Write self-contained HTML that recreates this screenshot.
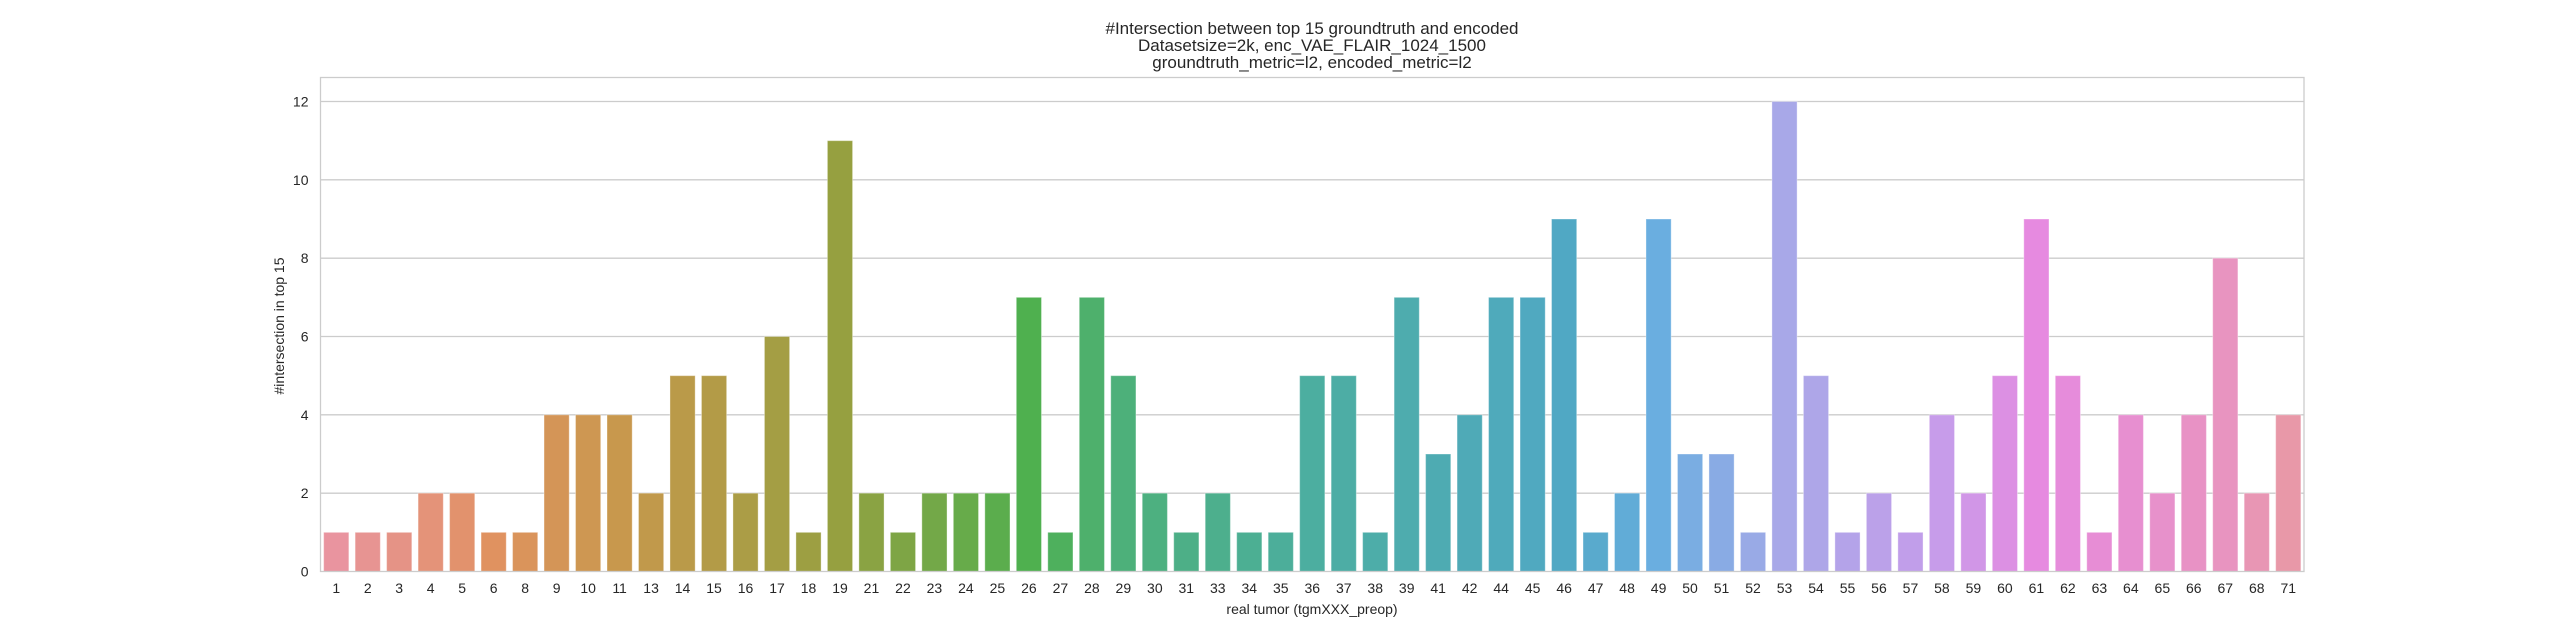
<!DOCTYPE html>
<html><head><meta charset="utf-8"><style>
html,body{margin:0;padding:0;background:#fff;}
svg{display:block;font-family:"Liberation Sans",Arial,sans-serif;}
</style></head><body>
<svg id="chart" width="2560" height="643" viewBox="0 0 2560 643">
<text x="1312" y="34" text-anchor="middle" font-size="17" fill="#262626">#Intersection between top 15 groundtruth and encoded</text>
<text x="1312" y="51" text-anchor="middle" font-size="17" fill="#262626">Datasetsize=2k, enc_VAE_FLAIR_1024_1500</text>
<text x="1312" y="68" text-anchor="middle" font-size="17" fill="#262626">groundtruth_metric=l2, encoded_metric=l2</text>
<g id="grid"></g>
<g id="bars"></g>
<g id="xticks"></g>
<rect x="320.5" y="77.5" width="1983.5" height="494" fill="none" stroke="#cccccc" stroke-width="1.3"/>
<text x="1312" y="614" text-anchor="middle" font-size="14" fill="#262626">real tumor (tgmXXX_preop)</text>
<text transform="translate(284,326) rotate(-90)" text-anchor="middle" font-size="14" fill="#262626">#intersection in top 15</text>
</svg>
<script>
const categories=["1","2","3","4","5","6","8","9","10","11","13","14","15","16","17","18","19","21","22","23","24","25","26","27","28","29","30","31","33","34","35","36","37","38","39","41","42","44","45","46","47","48","49","50","51","52","53","54","55","56","57","58","59","60","61","62","63","64","65","66","67","68","71"];
const values=[1,1,1,2,2,1,1,4,4,4,2,5,5,2,6,1,11,2,1,2,2,2,7,1,7,5,2,1,2,1,1,5,5,1,7,3,4,7,7,9,1,2,9,3,3,1,12,5,1,2,1,4,2,5,9,5,1,4,2,4,8,2,4];
const yTicks=[0,2,4,6,8,10,12];

const NS="http://www.w3.org/2000/svg";
const X0=320.5,X1=2304,Y0=571.5,Y12=101.5;
const n=categories.length, step=(X1-X0)/n;
function xScale(i){return X0+step*(i+0.5);}
function yScale(v){return Y0-(Y0-Y12)*v/12;}
const keys=[[0,[233,148,159]],[5,[224,146,96]],[9,[200,152,77]],[16,[150,160,64]],[22,[79,176,79]],[25,[77,176,122]],[31,[76,174,160]],[39,[80,168,196]],[42,[106,174,224]],[46,[168,168,232]],[51,[199,156,234]],[54,[230,138,224]],[60,[232,148,192]],[62,[232,152,168]]];
function colorAt(i){
  for(let k=0;k<keys.length-1;k++){
    const [a,ca]=keys[k],[b,cb]=keys[k+1];
    if(i>=a&&i<=b){const t=(i-a)/(b-a);return ca.map((c,j)=>Math.round(c+(cb[j]-c)*t));}
  }
  return keys[keys.length-1][1];
}
const grid=document.getElementById('grid');
yTicks.forEach(t=>{
  const y=yScale(t);
  if(t>0){
    const l=document.createElementNS(NS,'line');
    l.setAttribute('x1',X0);l.setAttribute('x2',X1);l.setAttribute('y1',y);l.setAttribute('y2',y);
    l.setAttribute('stroke','#cccccc');l.setAttribute('stroke-width','1.3');
    
    
    grid.appendChild(l);
  }
  const tx=document.createElementNS(NS,'text');
  tx.setAttribute('x',X0-12);tx.setAttribute('y',y+5);tx.setAttribute('text-anchor','end');
  tx.setAttribute('font-size','14');tx.setAttribute('fill','#262626');
  tx.textContent=t;
  
  
  grid.appendChild(tx);
});
const bars=document.getElementById('bars'), xt=document.getElementById('xticks');
const bw=step*0.8;
values.forEach((v,i)=>{
  const c=colorAt(i), cx=xScale(i), y=yScale(v);
  const r=document.createElementNS(NS,'rect');
  r.setAttribute('x',cx-bw/2);r.setAttribute('y',y);r.setAttribute('width',bw);r.setAttribute('height',Y0-y);
  r.setAttribute('fill','rgb('+c.join(',')+')');
  r.setAttribute('stroke','rgba(255,255,255,0.35)');r.setAttribute('stroke-width','1');
  
  
  bars.appendChild(r);
  const t=document.createElementNS(NS,'text');
  t.setAttribute('x',cx);t.setAttribute('y',593);t.setAttribute('text-anchor','middle');
  t.setAttribute('font-size','14');t.setAttribute('fill','#262626');
  t.textContent=categories[i];
  
  
  xt.appendChild(t);
});
</script>
</body></html>
